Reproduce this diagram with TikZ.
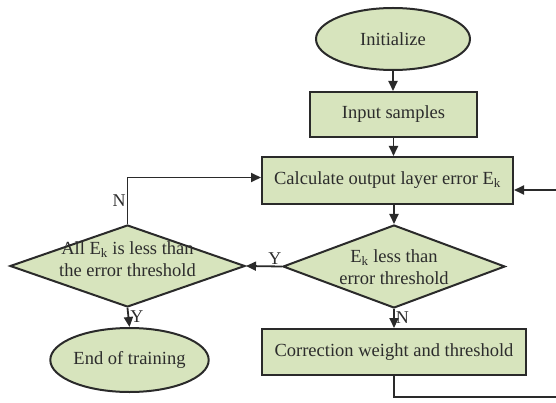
\documentclass[tikz,border=0pt]{standalone}
\usepackage{fontspec}
\setmainfont{Liberation Serif}
\usetikzlibrary{shapes.geometric,arrows.meta}
\definecolor{boxfill}{HTML}{D7E4BD}
\definecolor{edge}{HTML}{2A2A2A}
\definecolor{ink}{HTML}{2C2C2C}
\begin{document}
\begin{tikzpicture}[x=1pt,y=1pt,
  every node/.style={font=\fontsize{18.5}{22}\selectfont, text=ink},
  shapebase/.style={draw=edge, line width=2pt, fill=boxfill, inner sep=0pt},
  procbox/.style={shapebase, rectangle},
  termbox/.style={shapebase, ellipse},
  decbox/.style={shapebase, diamond},
  flow/.style={draw=edge, line width=1.8pt, -{Triangle[length=10pt,width=9pt]}},
  tag/.style={font=\fontsize{18}{20}\selectfont, inner sep=1pt}]
\useasboundingbox (0,0) rectangle (556,-403);
\clip (0,0) rectangle (556,-403);

% nodes
\node[termbox, minimum width=154, minimum height=62] (init) at (393,-39) {Initialize};
\node[procbox, minimum width=167, minimum height=45] (input) at (393.5,-114.5) {Input samples};
\node[procbox, minimum width=251, minimum height=47] (calc) at (387.5,-180.5) {Calculate output layer error E\textsubscript{k}};
\node[decbox, minimum width=222, minimum height=83] (dec) at (394,-266.5) {};
\node[align=center] (dect) at (394,-267) {E\textsubscript{k} less than\\error threshold};
\node[decbox, minimum width=235, minimum height=82] (all) at (127.5,-266) {};
\node[align=center] (allt) at (127.5,-259) {All E\textsubscript{k} is less than\\the error threshold};
\node[termbox, minimum width=155, minimum height=64] (stop) at (129.5,-360) {End of training};
\node[procbox, minimum width=264, minimum height=46] (corr) at (394,-352) {Correction weight and threshold};

% entry points and loop-back corners
\coordinate (calcIn) at ([yshift=3pt]calc.west);
\coordinate (fbLow) at (580,-397);
\coordinate (fbHigh) at (580,-190);

% connectors
\draw[flow] (init.south) -- (init.south |- input.north);
\draw[flow] (input.south) -- (input.south |- calc.north);
\draw[flow] (dec.north |- calc.south) -- (dec.north);
\draw[flow] (dec.south) -- node[tag, right, pos=0.45] {N} (corr.north);
\draw[flow] (dec.west) -- node[tag, above, pos=0.2] {Y} (all.east);
\draw[flow] (all.south) -- node[tag, right, pos=0.45] {Y} (stop.north);
\draw[flow] (all.north) |- node[tag, left, pos=0.25] {N} (calcIn);
\draw[flow] (corr.south) |- (fbLow) -- (fbHigh) -- (fbHigh -| calc.east);
\end{tikzpicture}
\end{document}
